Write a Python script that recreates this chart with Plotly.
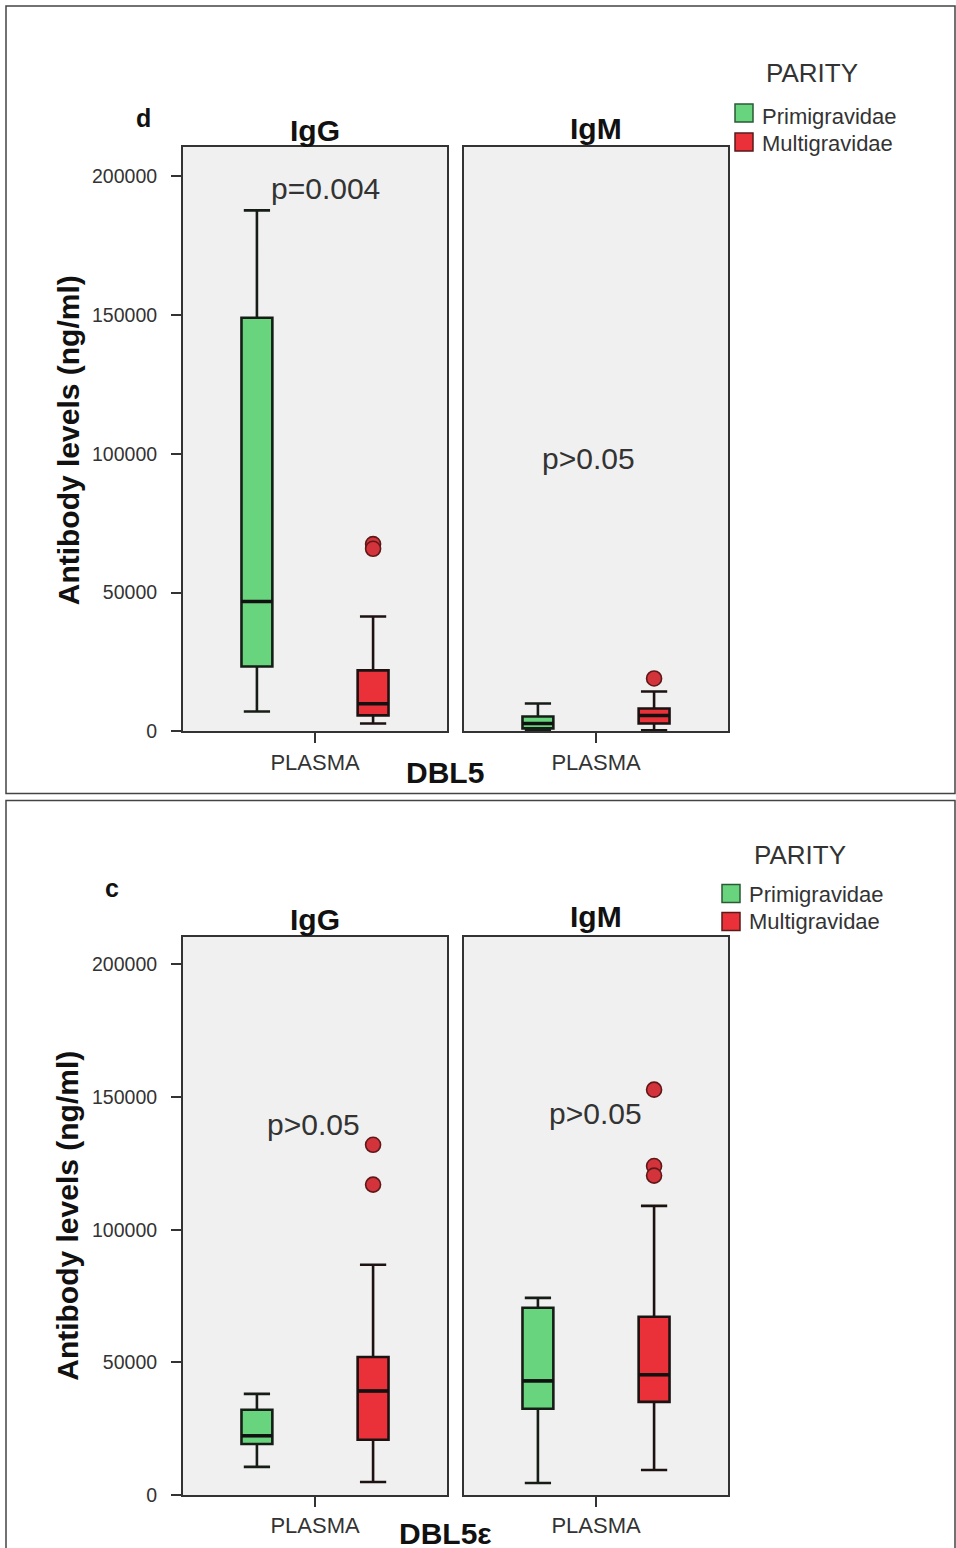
import plotly.graph_objects as go

W, H = 956, 1548
FIG_H = 1560  # rendered page height (captured page is slightly taller than the window)

# ---------------- data ----------------
groups = ["Primigravidae", "Multigravidae"]
positions = [-0.22, 0.22]
box_width = 0.117

# stats order: [lower whisker, Q1, median, Q3, upper whisker]
dbl5_igg_primi = [7200, 23400, 46800, 149000, 187700]
dbl5_igg_multi = [2900, 5800, 10000, 22000, 41400]
dbl5_igg_multi_outliers = [67500, 65800]

dbl5_igm_primi = [200, 1100, 2900, 5400, 10100]
dbl5_igm_multi = [400, 2900, 5800, 8300, 14400]
dbl5_igm_multi_outliers = [19100]

dbl5e_igg_primi = [10600, 19200, 22300, 32100, 38100]
dbl5e_igg_multi = [4900, 20800, 39200, 52000, 86800]
dbl5e_igg_multi_outliers = [132000, 117000]

dbl5e_igm_primi = [4500, 32500, 43000, 70600, 74300]
dbl5e_igm_multi = [9400, 35100, 45300, 67200, 109000]
dbl5e_igm_multi_outliers = [152800, 124000, 120400]

y_ticks = [0, 50000, 100000, 150000, 200000]
y_tick_labels = ["0", "50000", "100000", "150000", "200000"]
x_tick_labels = ["PLASMA"]
p_values = ["p=0.004", "p>0.05", "p>0.05", "p>0.05"]

FILL = ["#69d47e", "#ea3038"]
EDGE = ["#161c16", "#1c1212"]
FONT = "Liberation Sans, Arial, sans-serif"
TXT = "#333333"


def px(x):
    return x / W


def py(y):
    return 1 - y / H


fig = go.Figure()

panels = [
    ("x", "y", dbl5_igg_primi, dbl5_igg_multi, dbl5_igg_multi_outliers),
    ("x2", "y2", dbl5_igm_primi, dbl5_igm_multi, dbl5_igm_multi_outliers),
    ("x3", "y3", dbl5e_igg_primi, dbl5e_igg_multi, dbl5e_igg_multi_outliers),
    ("x4", "y4", dbl5e_igm_primi, dbl5e_igm_multi, dbl5e_igm_multi_outliers),
]

for xa, ya, primi, multi, outl in panels:
    for gi, stats in enumerate([primi, multi]):
        lo, q1, med, q3, hi = stats
        fig.add_trace(go.Box(
            x=[positions[gi]], q1=[q1], median=[med], q3=[q3],
            lowerfence=[lo], upperfence=[hi],
            width=box_width, whiskerwidth=0.85,
            fillcolor=FILL[gi], line=dict(color=EDGE[gi], width=2.6),
            boxpoints=False, name=groups[gi], showlegend=False,
            xaxis=xa, yaxis=ya,
        ))
        fig.add_trace(go.Scatter(
            x=[positions[gi] - box_width / 2, positions[gi] + box_width / 2],
            y=[med, med], mode="lines", line=dict(color="#111111", width=3.5),
            showlegend=False, hoverinfo="skip", xaxis=xa, yaxis=ya,
        ))
    fig.add_trace(go.Scatter(
        x=[positions[1]] * len(outl), y=outl, mode="markers",
        marker=dict(size=15, color="#d3343c", line=dict(color="#5e1818", width=1.6)),
        showlegend=False, xaxis=xa, yaxis=ya,
    ))

# ---------------- axes ----------------
yrange = [0, 210500]
xdoms = [(183, 447), (464, 728)]
ydoms = [(147, 731), (936, 1494)]

common_x = dict(range=[-0.5, 0.5], tickvals=[0], ticktext=x_tick_labels,
                ticks="outside", ticklen=10, tickwidth=1.5, tickcolor="#333",
                showline=True, mirror=True, linecolor="#333", linewidth=2,
                showgrid=False, zeroline=False, fixedrange=True,
                tickfont=dict(family=FONT, size=22, color=TXT))
common_y = dict(range=yrange, showline=True, mirror=True, linecolor="#333",
                linewidth=2, showgrid=False, zeroline=False, fixedrange=True)

layout_axes = {}
idx = 0
for r, (y0, y1) in enumerate(ydoms):
    for c, (x0, x1) in enumerate(xdoms):
        idx += 1
        sfx = "" if idx == 1 else str(idx)
        layout_axes["xaxis" + sfx] = dict(common_x, domain=[px(x0), px(x1)], anchor="y" + sfx)
        yd = dict(common_y, domain=[py(y1), py(y0)], anchor="x" + sfx)
        if c == 0:
            yd.update(tickvals=y_ticks, ticktext=y_tick_labels, ticks="outside",
                      ticklen=10, tickwidth=1.5, tickcolor="#333",
                      ticklabelstandoff=10,
                      tickfont=dict(family=FONT, size=19.5, color=TXT))
        else:
            yd.update(showticklabels=False, ticks="")
        layout_axes["yaxis" + sfx] = yd

fig.update_layout(**layout_axes)

# ---------------- annotations ----------------
ann = []


def text(x, y, s, size, bold=False, angle=0, color=TXT, xanchor="center"):
    ann.append(dict(x=px(x), y=py(y), xref="paper", yref="paper", text=("<b>%s</b>" % s) if bold else s,
                    showarrow=False, textangle=angle, xanchor=xanchor, yanchor="middle",
                    font=dict(family=FONT, size=size, color=color)))


# top panel
text(143, 118, "d", 25, bold=True, color="#111")
text(315, 130, "IgG", 30, bold=True, color="#111")
text(596, 128, "IgM", 30, bold=True, color="#111")
text(68, 440, "Antibody levels (ng/ml)", 30, bold=True, angle=-90, color="#111")
text(445, 772, "DBL5", 30, bold=True, color="#111")
text(325, 188, p_values[0], 30)
text(588, 458, p_values[1], 30)
text(812, 73, "PARITY", 26)
text(760, 116, groups[0], 22, xanchor="left")
text(760, 143, groups[1], 22, xanchor="left")

# bottom panel
text(112, 887, "c", 25, bold=True, color="#111")
text(315, 919, "IgG", 30, bold=True, color="#111")
text(596, 916, "IgM", 30, bold=True, color="#111")
text(68, 1215, "Antibody levels (ng/ml)", 30, bold=True, angle=-90, color="#111")
text(445, 1533, "DBL5ε", 30, bold=True, color="#111")
text(313, 1124, p_values[2], 30)
text(595, 1113, p_values[3], 30)
text(800, 854, "PARITY", 26)
text(747, 894, groups[0], 22, xanchor="left")
text(747, 921, groups[1], 22, xanchor="left")

shapes = []


def rect(x0, y0, x1, y1, fill, line, width):
    shapes.append(dict(type="rect", xref="paper", yref="paper",
                       x0=px(x0), x1=px(x1), y0=py(y1), y1=py(y0),
                       fillcolor=fill, line=dict(color=line, width=width), layer="above"))


rect(6, 6, 955, 793, "rgba(0,0,0,0)", "#444", 1.5)
rect(6, 800, 955, 1570, "rgba(0,0,0,0)", "#444", 1.5)
rect(735, 104, 753, 122, FILL[0], "#2a5a33", 1.5)
rect(735, 133, 753, 151, FILL[1], "#5a1a1a", 1.5)
rect(722, 884, 740, 902, FILL[0], "#2a5a33", 1.5)
rect(722, 912, 740, 930, FILL[1], "#5a1a1a", 1.5)

fig.update_layout(
    width=W, height=FIG_H, margin=dict(l=0, r=0, t=0, b=0),
    paper_bgcolor="white", plot_bgcolor="#f0f0f0",
    annotations=ann, shapes=shapes, showlegend=False,
    font=dict(family=FONT, color=TXT),
)

page_fix = (
    "var d=document.documentElement,b=document.body;"
    "d.style.margin='0';d.style.padding='0';d.style.overflow='hidden';"
    "b.style.margin='0';b.style.padding='0';b.style.overflow='hidden';"
    "b.style.lineHeight='0';"
    "var g=document.getElementById('{plot_id}');g.style.display='block';"
)

fig.write_html("out.html", config={"displayModeBar": False}, post_script=page_fix)
